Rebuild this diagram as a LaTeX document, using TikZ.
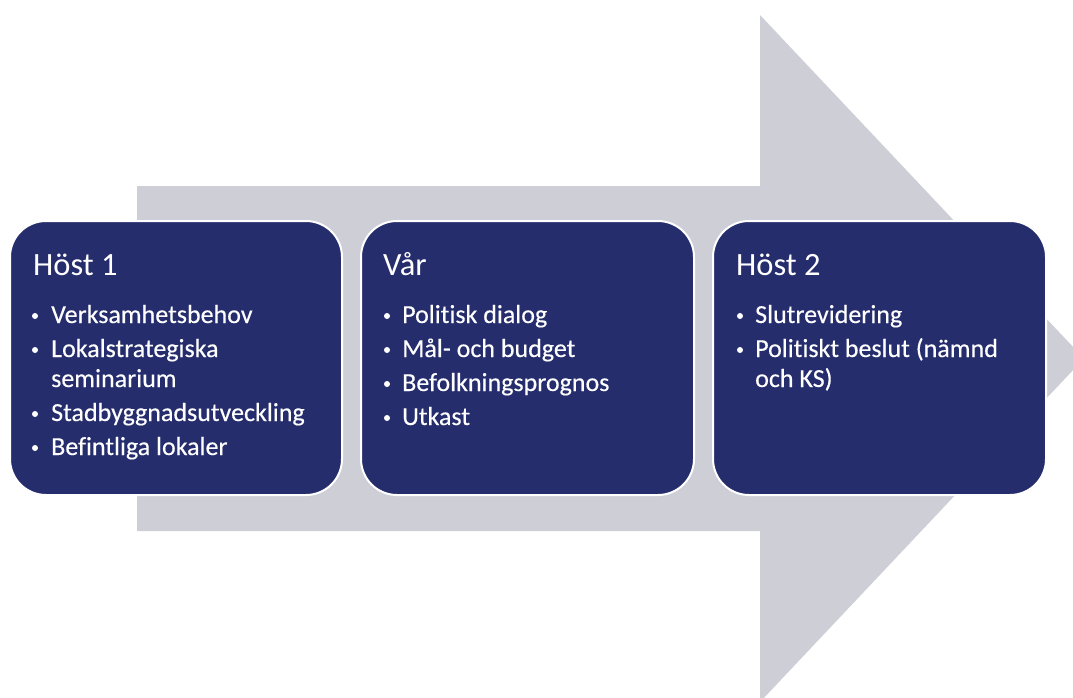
\documentclass[tikz,border=0pt]{standalone}
\usepackage{fontspec}
\setmainfont{Carlito}[Ligatures={NoCommon}]
\newfontfamily\itemfont{Carlito}[Ligatures={NoCommon},FakeBold=0.3]
\definecolor{navy}{HTML}{262D6D}
\definecolor{arrowgray}{HTML}{CDCED6}
\begin{document}
\begin{tikzpicture}[x=1pt,y=-1pt,
  stage/.style={draw=white, line width=2pt, fill=navy, rounded corners=36pt},
  title/.style={anchor=base west, inner sep=0pt, text=white, font=\fontsize{32.5}{34}\selectfont},
  item/.style={anchor=base west, inner sep=0pt, text=white, font=\itemfont\fontsize{26}{26}\selectfont},
  dot/.style={circle, fill=white, inner sep=0pt, minimum size=6pt}]
\useasboundingbox (0,0) rectangle (1073,697);
\clip (0,0) rectangle (1073,697);
% big arrow
\fill[arrowgray] (137,186) -- (760,186) -- (760,15) -- (1084,358.5) -- (760,702) -- (760,531) -- (137,531) -- cycle;
% stages
\draw[stage] (10,221) rectangle (342,495);
\draw[stage] (361,221) rectangle (694,495);
\draw[stage] (713,221) rectangle (1046,495);
% Host 1
\node[title] (t1) at (33,275) {Höst 1};
\node[dot] (b11) at (35,316) {};
\node[item] (i11) at (51,323) {Verksamhetsbehov};
\node[dot] (b12) at (35,350) {};
\node[item] (i12) at (51,357) {Lokalstrategiska};
\node[item] (i12b) at (51,387) {seminarium};
\node[dot] (b13) at (35,414) {};
\node[item] (i13) at (51,421) {Stadbyggnadsutveckling};
\node[dot] (b14) at (35,448) {};
\node[item] (i14) at (51,455) {Befintliga lokaler};
% Var
\node[title] (t2) at (383,275) {Vår};
\node[dot] (b21) at (387,316) {};
\node[item] (i21) at (402,323) {Politisk dialog};
\node[dot] (b22) at (387,350) {};
\node[item] (i22) at (402,357) {Mål- och budget};
\node[dot] (b23) at (387,384) {};
\node[item] (i23) at (402,391) {Befolkningsprognos};
\node[dot] (b24) at (387,418) {};
\node[item] (i24) at (402,425) {Utkast};
% Host 2
\node[title] (t3) at (736,275) {Höst 2};
\node[dot] (b31) at (740,316) {};
\node[item] (i31) at (755,323) {Slutrevidering};
\node[dot] (b32) at (740,350) {};
\node[item] (i32) at (755,357) {Politiskt beslut (nämnd};
\node[item] (i32b) at (755,387) {och KS)};
\end{tikzpicture}
\end{document}
